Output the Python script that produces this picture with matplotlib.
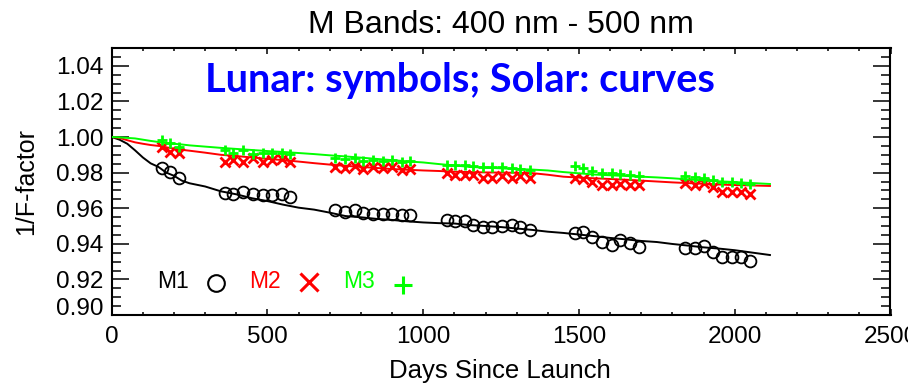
import matplotlib
matplotlib.use('Agg')
import matplotlib.pyplot as plt
from matplotlib.ticker import MultipleLocator, FixedLocator

plt.rcParams['font.family'] = ['Liberation Sans', 'DejaVu Sans']

# solar (curves): days since launch and 1/F-factor per band
solar_days = [0, 25, 50, 75, 100, 125, 150, 175, 200, 225, 250,
              300, 350, 400, 450, 500, 550, 600, 650, 700, 750, 800, 850,
              900, 950, 1000, 1050, 1100, 1150, 1200, 1250, 1300, 1350, 1400,
              1450, 1500, 1550, 1600, 1650, 1700, 1750, 1800, 1850, 1900, 1950,
              2000, 2050, 2113]
solar_m1 = [1.0000, 0.9985, 0.9962, 0.9925, 0.9885, 0.9852, 0.9832, 0.9800, 0.9782, 0.9755, 0.9740,
            0.9722, 0.9695, 0.9678, 0.9656, 0.9640, 0.9620, 0.9603, 0.9592, 0.9575, 0.9556, 0.9549, 0.9540,
            0.9534, 0.9526, 0.9520, 0.9516, 0.9514, 0.9505, 0.9500, 0.9494, 0.9486, 0.9478, 0.9468,
            0.9461, 0.9452, 0.9443, 0.9433, 0.9425, 0.9416, 0.9410, 0.9399, 0.9390, 0.9380, 0.9373,
            0.9364, 0.9352, 0.9337]
solar_m2 = [1.0000, 0.9995, 0.9982, 0.9970, 0.9962, 0.9955, 0.9950, 0.9942, 0.9935, 0.9928, 0.9923,
            0.9912, 0.9900, 0.9893, 0.9885, 0.9877, 0.9870, 0.9862, 0.9853, 0.9845, 0.9838, 0.9832, 0.9826,
            0.9820, 0.9816, 0.9812, 0.9809, 0.9805, 0.9803, 0.9801, 0.9800, 0.9799, 0.9797, 0.9788,
            0.9777, 0.9772, 0.9768, 0.9764, 0.9760, 0.9755, 0.9750, 0.9745, 0.9741, 0.9737, 0.9733,
            0.9730, 0.9728, 0.9725]
solar_m3 = [1.0000, 0.9998, 0.9995, 0.9992, 0.9985, 0.9978, 0.9972, 0.9966, 0.9962, 0.9958, 0.9953,
            0.9946, 0.9939, 0.9933, 0.9927, 0.9921, 0.9916, 0.9910, 0.9904, 0.9897, 0.9891, 0.9884, 0.9877,
            0.9870, 0.9863, 0.9857, 0.9848, 0.9840, 0.9832, 0.9828, 0.9824, 0.9820, 0.9817, 0.9812,
            0.9803, 0.9796, 0.9789, 0.9785, 0.9781, 0.9777, 0.9773, 0.9768, 0.9762, 0.9756, 0.9751,
            0.9747, 0.9742, 0.9736]

# lunar (symbols)
lunar_days = [160, 187, 215,
              364, 390, 423, 455, 487, 515, 546, 572,
              717, 749, 781, 808, 840, 872, 900, 932, 958,
              1075, 1102, 1134, 1161, 1193, 1221, 1253, 1285, 1311, 1343,
              1487, 1513, 1542, 1574, 1606, 1632, 1664, 1694,
              1840, 1872, 1901, 1931, 1958, 1990, 2020, 2049]
lunar_m1 = [0.9826, 0.9803, 0.9770,
            0.9685, 0.9680, 0.9690, 0.9680, 0.9674, 0.9674, 0.9680, 0.9663,
            0.9590, 0.9580, 0.9590, 0.9573, 0.9567, 0.9570, 0.9570, 0.9562, 0.9562,
            0.9534, 0.9530, 0.9530, 0.9506, 0.9494, 0.9494, 0.9500, 0.9506, 0.9494, 0.9480,
            0.9460, 0.9466, 0.9440, 0.9410, 0.9393, 0.9420, 0.9404, 0.9382,
            0.9376, 0.9376, 0.9388, 0.9354, 0.9326, 0.9326, 0.9326, 0.9303]
lunar_m2 = [0.9944, 0.9916, 0.9910,
            0.9860, 0.9870, 0.9860, 0.9882, 0.9860, 0.9870, 0.9876, 0.9860,
            0.9830, 0.9825, 0.9835, 0.9820, 0.9830, 0.9825, 0.9830, 0.9815, 0.9820,
            0.9798, 0.9787, 0.9787, 0.9787, 0.9770, 0.9770, 0.9780, 0.9770, 0.9780, 0.9770,
            0.9770, 0.9764, 0.9747, 0.9730, 0.9730, 0.9736, 0.9730, 0.9730,
            0.9742, 0.9730, 0.9742, 0.9719, 0.9691, 0.9691, 0.9691, 0.9680]
lunar_m3 = [0.9983, 0.9966, 0.9944,
            0.9927, 0.9910, 0.9927, 0.9905, 0.9910, 0.9910, 0.9910, 0.9905,
            0.9882, 0.9876, 0.9880, 0.9865, 0.9870, 0.9865, 0.9870, 0.9860, 0.9865,
            0.9843, 0.9840, 0.9843, 0.9838, 0.9830, 0.9832, 0.9830, 0.9826, 0.9820, 0.9815,
            0.9838, 0.9826, 0.9810, 0.9800, 0.9798, 0.9790, 0.9787, 0.9780,
            0.9780, 0.9775, 0.9770, 0.9760, 0.9750, 0.9747, 0.9740, 0.9736]

bands = ['M1', 'M2', 'M3']
colors = ['black', '#ff0000', '#00ff00']
markers = ['o', 'x', '+']

W, H = 908, 384
fig = plt.figure(figsize=(W / 100, H / 100), dpi=100)
ax = fig.add_axes([111.7 / W, 1 - 315 / H, (890.5 - 111.7) / W, (315 - 48) / H])

solar = [solar_m1, solar_m2, solar_m3]
lunar = [lunar_m1, lunar_m2, lunar_m3]
for i in range(3):
    ax.plot(solar_days, solar[i], color=colors[i], lw=1.4, zorder=2 + 2 * i)
    if markers[i] == 'o':
        ax.plot(lunar_days, lunar[i], ls='none', marker='o', ms=8.5, mfc='none',
                mec=colors[i], mew=1.3, zorder=3 + 2 * i)
    else:
        ax.plot(lunar_days, lunar[i], ls='none', marker=markers[i], ms=7.5,
                mec=colors[i], mew=2, zorder=3 + 2 * i)

ax.set_xlim(0, 2500)
ax.set_ylim(0.90, 1.05)
ax.xaxis.set_major_locator(MultipleLocator(500))
ax.xaxis.set_minor_locator(MultipleLocator(100))
ax.yaxis.set_major_locator(FixedLocator([0.90, 0.92, 0.94, 0.96, 0.98, 1.00, 1.02, 1.04]))
ax.yaxis.set_minor_locator(MultipleLocator(0.005))
ax.yaxis.set_major_formatter(plt.FormatStrFormatter('%.2f'))

ax.tick_params(which='both', direction='in', top=True, right=True, width=1.1,
               labelsize=17.5, colors='black')
ax.tick_params(axis='x', which='major', length=4.2, pad=8)
ax.tick_params(axis='x', which='minor', length=2.2)
ax.tick_params(axis='y', which='major', length=12, pad=6)
ax.tick_params(axis='y', which='minor', length=6.5)
for s in ax.spines.values():
    s.set_linewidth(1.5)

# bottom label sits on the axis line
fig.canvas.draw()
ax.get_yticklabels()[0].set_verticalalignment('baseline')

fig.text(501 / W, 1 - 33 / H, 'M Bands: 400 nm - 500 nm', ha='center', va='baseline', fontsize=23)
fig.text(500 / W, 1 - 378 / H, 'Days Since Launch', ha='center', va='baseline', fontsize=18.5)
fig.text(26 / W, 1 - 181.5 / H, '1/F-factor', rotation=90, ha='center', va='center', fontsize=18)

fig.text(205 / W, 1 - 92 / H, 'Lunar: symbols; Solar: curves', family='Lato', weight='bold',
         color='#0000ff', fontsize=28.5, ha='left', va='baseline')

# band key
lx = [0.058, 0.176, 0.297]
mx = [0.134, 0.2535, 0.374]
my = [0.12, 0.124, 0.112]
for i in range(3):
    ax.text(lx[i], 0.101, bands[i], color=colors[i], fontsize=16.5, transform=ax.transAxes,
            ha='left', va='baseline')
    if markers[i] == 'o':
        ax.plot(mx[i], my[i], marker='o', ms=12, mfc='none', mec=colors[i], mew=1.5,
                transform=ax.transAxes)
    else:
        ax.plot(mx[i], my[i], marker=markers[i], ms=13, mec=colors[i], mew=2.2,
                transform=ax.transAxes)

fig.savefig('out.png', dpi=100)
